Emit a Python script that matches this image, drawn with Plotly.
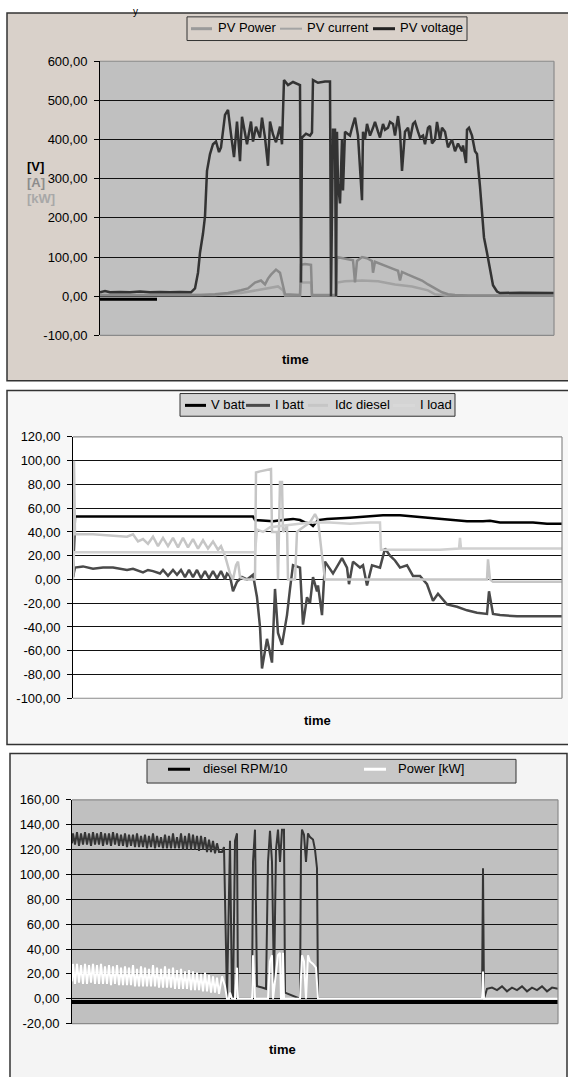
import plotly.graph_objects as go

W, H = 568, 1077
FONT = "Liberation Sans, Arial, sans-serif"

# ---------------- DATA ----------------
# Panel 1 : PV field (time index, value)
PV_VOLTAGE = [(0,10),(5,13),(10,10),(20,11),(30,10),(40,12),(50,10),(60,11),(70,10),(80,11),(91,10),(95,20),
              (98,60),(100,111),(103,160),(105,204),(107,320),(110,363),(113,388),(116,395),(119,368),(121,380),
              (125,463),(128,476),(131,413),(134,355),(137,446),(140,345),(142,458),(145,420),(147,388),(151,446),
              (153,395),(156,433),(160,405),(162,456),(165,405),(168,333),(170,446),(173,413),(176,393),(180,433),
              (182,388),(184,552),(188,539),(193,547),(196,544),(200,539),(201,35),(202,405),(206,415),(210,410),
              (212,418),(213,552),(218,545),(225,548),(230,548),(231,0),(233,425),(235,425),(236,0),(237,420),
              (238,287),(240,237),(242,400),(243,270),(245,420),(247,415),(250,410),(252,430),(255,456),(258,410),
              (262,245),(263,420),(265,400),(267,440),(270,410),(273,430),(275,445),(278,420),(280,405),(283,440),
              (285,425),(288,430),(290,445),(293,440),(295,410),(298,460),(300,420),(302,320),(305,420),(308,430),
              (310,400),(313,440),(315,445),(318,420),(320,405),(323,410),(325,388),(328,430),(330,435),(332,390),
              (335,400),(337,445),(340,400),(342,430),(345,420),(348,380),(350,390),(352,400),(355,370),(358,390),
              (362,370),(363,385),(366,340),(367,425),(369,430),(372,410),(375,370),(377,363),(380,280),(382,204),
              (384,150),(387,111),(390,68),(393,28),(397,12),(400,8),(420,9),(440,8),(454,8)]
PV_CURRENT = [(0,3),(50,3),(100,3),(115,5),(128,8),(141,15),(148,20),(155,35),(161,40),(165,30),(168,45),
              (171,55),(176,68),(180,60),(183,30),(185,5),(200,3),(201,80),(205,82),(211,80),(212,3),(236,3),
              (237,100),(242,97),(248,95),(253,92),(255,35),(257,90),(262,100),(267,97),(272,90),(273,60),
              (275,88),(282,82),(288,75),(295,68),(298,65),(300,40),(302,62),(308,55),(315,48),(322,40),
              (328,30),(335,20),(342,10),(348,5),(355,3),(368,2),(454,2)]
PV_POWER = [(0,3),(100,3),(115,3),(141,8),(155,15),(168,20),(178,25),(183,15),(185,2),(200,2),(201,35),
            (211,35),(212,2),(236,2),(237,35),(245,38),(262,40),(278,38),(295,30),(312,25),(328,15),(335,5),
            (345,2),(454,2)]
PV_OFFSET = [(0,-8),(57,-8)]

# Panel 2 : battery (time index, value)
V_BATT = [(0,2),(2,53),(50,53),(100,53),(150,52.5),(180,53),(182,50),(200,49),(210,50),(220,51),(227,50),
          (232,48),(237,47),(240,45),(245,50),(254,51),(277,52),(300,53),(310,54),(327,54),(340,53),(354,52),
          (377,50),(394,49),(410,49),(417,49.5),(427,48),(460,48),(474,47),(489,47)]
I_BATT = [(0,2),(2,10),(10,11),(20,9),(30,10),(40,10),(54,8),(60,9),(70,6),(75,8),(80,7),(87,5),(90,8),
          (95,3),(100,8),(104,4),(108,8),(112,2),(116,8),(120,2),(124,8),(128,1),(132,7),(136,1),(140,7),
          (144,1),(148,7),(152,0),(154,5),(157,3),(160,-10),(164,-2),(169,2),(174,0),(180,4),(184,-15),
          (187,-40),(189,-75),(194,-50),(199,-70),(202,-8),(205,-45),(209,-55),(214,-30),(217,-8),(220,12),
          (227,10),(230,-38),(234,-15),(237,-20),(240,2),(244,-10),(245,-5),(249,-30),(252,15),(260,5),
          (269,18),(274,10),(276,-4),(280,15),(287,10),(290,12),(294,-5),(299,12),(307,10),(312,26),(317,20),
          (322,16),(327,10),(334,12),(340,3),(347,3),(354,-4),(360,-18),(365,-12),(374,-21),(384,-23),
          (394,-26),(404,-28),(414,-29),(416,-10),(418,-18),(420,-29),(427,-30),(444,-31),(489,-31)]
IDC_DIESEL = [(0,5),(1,100),(2,38),(20,38),(37,37),(54,36),(60,38),(65,32),(70,34),(75,30),(80,36),(85,28),
              (90,35),(95,28),(100,35),(105,27),(110,35),(115,27),(120,34),(125,26),(130,33),(135,26),(140,32),
              (145,25),(148,28),(152,20),(157,5),(160,0),(163,12),(165,15),(167,2),(172,0),(182,0),(183,90),
              (187,91),(192,92),(198,93),(199,40),(204,40),(205,0),(207,82),(209,82),(210,40),(214,45),(215,0),
              (222,0),(224,40),(227,42),(232,45),(237,48),(242,55),(245,50),(249,20),(252,0),(300,0),(414,0),
              (415,17),(417,0),(420,-2),(489,-2)]
I_LOAD = [(0,0),(1,23),(50,23),(100,23),(150,23),(182,23),(184,42),(190,40),(197,44),(207,45),(217,46),
          (227,47),(237,48),(257,48),(277,47),(297,48),(307,48),(308,25),(327,25),(367,25),(386,26),(387,35),
          (388,26),(489,26)]

# Panel 3 : diesel (time index, value)
DIESEL_RPM10 = [(0,125),(1,133),(3,124),(5,134),(7,123),(9,133),(11,124),(13,134),(15,124),(17,133),(19,123),
                (21,134),(23,124),(25,133),(27,124),(29,134),(31,123),(33,133),(35,124),(37,133),(39,123),
                (41,134),(43,124),(45,133),(47,123),(49,132),(51,123),(53,133),(55,122),(57,132),(59,123),
                (61,132),(63,122),(65,133),(67,122),(69,131),(71,122),(73,132),(75,121),(77,131),(79,122),
                (81,133),(83,121),(85,131),(87,122),(89,130),(91,121),(93,132),(95,121),(97,131),(99,121),
                (101,133),(103,121),(105,130),(107,121),(109,133),(111,120),(113,131),(115,120),(117,133),
                (119,120),(121,132),(123,120),(125,131),(127,119),(129,131),(131,120),(133,130),(135,118),
                (137,128),(139,118),(141,127),(143,117),(145,125),(147,118),(150,118),(152,122),(155,0),
                (158,127),(160,0),(161,0),(163,127),(165,133),(166,0),(180,0),(181,110),(183,136),(185,10),
                (190,9),(194,8),(196,110),(198,135),(200,110),(202,10),(204,120),(206,136),(208,110),(210,136),
                (212,136),(213,5),(228,0),(229,120),(230,136),(232,132),(234,110),(236,133),(238,130),(241,128),
                (243,120),(245,105),(246,0),(410,0),(411,105),(412,0),(415,8),(420,9),(425,7),(430,10),(435,6),
                (440,9),(445,7),(450,10),(455,6),(460,9),(465,7),(470,10),(475,6),(480,9),(486,8)]
DIESEL_POWER = [(0,14),(1,28),(3,12),(5,28),(7,13),(9,27),(11,12),(13,28),(15,12),(17,27),(19,13),(21,28),
                (23,12),(25,27),(27,12),(29,28),(31,12),(33,26),(35,12),(37,27),(39,11),(41,26),(43,12),(45,27),
                (47,11),(49,25),(51,11),(53,26),(55,11),(57,25),(59,11),(61,27),(63,10),(65,24),(67,10),(69,26),
                (71,10),(73,25),(75,10),(77,24),(79,10),(81,27),(83,10),(85,25),(87,9),(89,24),(91,9),(93,26),
                (95,9),(97,24),(99,9),(101,25),(103,8),(105,23),(107,8),(109,24),(111,8),(113,22),(115,8),
                (117,23),(119,7),(121,22),(123,7),(125,21),(127,7),(129,20),(131,6),(133,21),(135,6),(137,19),
                (139,5),(141,18),(143,5),(145,17),(147,4),(150,18),(153,10),(155,0),(157,0),(158,5),(160,0),
                (163,0),(165,25),(166,0),(180,0),(181,35),(183,0),(196,0),(198,30),(200,35),(201,0),(206,35),
                (208,37),(209,0),(210,0),(211,37),(212,0),(228,0),(230,35),(232,30),(234,0),(236,35),(238,30),
                (241,28),(244,25),(246,0),(410,0),(411,22),(412,0),(486,0)]
DIESEL_BASE = [(0,-2.5),(486,-2.5)]

P1_TICKS = [-100, 0, 100, 200, 300, 400, 500, 600]
P1_LABELS = ["-100,00", "0,00", "100,00", "200,00", "300,00", "400,00", "500,00", "600,00"]
P2_TICKS = [-100, -80, -60, -40, -20, 0, 20, 40, 60, 80, 100, 120]
P2_LABELS = ["-100,00", "-80,00", "-60,00", "-40,00", "-20,00", "0,00", "20,00", "40,00", "60,00",
             "80,00", "100,00", "120,00"]
P3_TICKS = [-20, 0, 20, 40, 60, 80, 100, 120, 140, 160]
P3_LABELS = ["-20,00", "0,00", "20,00", "40,00", "60,00", "80,00", "100,00", "120,00", "140,00", "160,00"]


# ---------------- helpers ----------------
def fx(px):
    return px / W


def fy(py):
    return 1 - py / H


def xs(pairs):
    return [p[0] for p in pairs]


def ys(pairs):
    return [p[1] for p in pairs]


fig = go.Figure()


def add(pairs, color, width, ax):
    fig.add_trace(go.Scatter(x=xs(pairs), y=ys(pairs), mode="lines",
                             line=dict(color=color, width=width),
                             xaxis="x" + ax, yaxis="y" + ax,
                             showlegend=False, hoverinfo="skip"))


# panel 1 traces
add(PV_OFFSET, "#000000", 3, "")
add(PV_POWER, "#a2a2a2", 2.5, "")
add(PV_CURRENT, "#8a8a8a", 2.5, "")
add(PV_VOLTAGE, "#333333", 2.5, "")
# panel 2
add(V_BATT, "#000000", 2.5, "2")
add(I_BATT, "#4a4a4a", 2.5, "2")
add(IDC_DIESEL, "#c6c6c6", 2.5, "2")
add(I_LOAD, "#d0d0d0", 2.5, "2")
# panel 3
add(DIESEL_BASE, "#000000", 4, "3")
add(DIESEL_RPM10, "#353535", 2, "3")
add(DIESEL_POWER, "#ffffff", 2, "3")

# plot rectangles (px): left, right, top, bottom
P1 = (100, 554, 55, 333)
P2 = (73, 562, 436, 701)
P3 = (72, 558, 804, 1031)

tickfont = dict(family=FONT, size=13, color="#000000")


def xaxis(p, rng, anchor):
    return dict(domain=[fx(p[0]), fx(p[1])], range=rng, showgrid=False, showticklabels=False,
                ticks="", zeroline=False, showline=False, fixedrange=True, anchor=anchor)


def yaxis(p, rng, tv, tt, anchor):
    return dict(domain=[fy(p[3]), fy(p[2])], range=rng, tickvals=tv, ticktext=tt, ticks="outside",
                ticklen=5, tickcolor="#000000", tickwidth=1, showline=True, linecolor="#000000",
                linewidth=1, showgrid=True, gridcolor="#111111", gridwidth=1, zeroline=False,
                tickfont=tickfont, anchor=anchor, fixedrange=True, ticklabelstandoff=4)


shapes = []
annotations = []


def rect_px(x0, y0, x1, y1, fill, line="#333333", lw=1.5, layer="below"):
    shapes.append(dict(type="rect", xref="paper", yref="paper", x0=fx(x0), x1=fx(x1), y0=fy(y1), y1=fy(y0),
                       fillcolor=fill, line=dict(color=line, width=lw), layer=layer))


# panel backgrounds
rect_px(7, 6, 580, 379, "#d9d1ca")
rect_px(7, 389, 580, 748, "#f7f7f7")
rect_px(10, 757, 567, 1090, "#f4f4f4")


def plot_bg(ax, fill):
    shapes.append(dict(type="rect", xref=ax + " domain", yref="y" + ax[1:] + " domain", x0=0, x1=1, y0=0, y1=1,
                       fillcolor=fill, line=dict(width=0), layer="below"))
    for (a, b, c, d) in [(0, 1, 1, 1), (1, 0, 1, 1), (0, 0, 1, 0)]:
        shapes.append(dict(type="line", xref=ax + " domain", yref="y" + ax[1:] + " domain",
                           x0=a, y0=b, x1=c, y1=d, line=dict(color="#8a8a8a", width=1.2), layer="above"))


plot_bg("x", "#c0c0c0")
plot_bg("x2", "#ffffff")
plot_bg("x3", "#c0c0c0")


def text(px, py, s, size=13, color="#000000", bold=False, xanchor="left"):
    annotations.append(dict(xref="paper", yref="paper", x=fx(px), y=fy(py), text=("<b>%s</b>" % s) if bold else s,
                            showarrow=False, xanchor=xanchor, yanchor="middle",
                            font=dict(family=FONT, size=size, color=color)))


def legend(box, items, yc):
    rect_px(box[0], box[1], box[2], box[3], box[4], line="#333333", lw=1, layer="above")
    for (x0, x1, color, lw, label, tx) in items:
        shapes.append(dict(type="line", xref="paper", yref="paper", x0=fx(x0), x1=fx(x1), y0=fy(yc + 1),
                           y1=fy(yc + 1), line=dict(color=color, width=lw), layer="above"))
        text(tx, yc, label)


legend((187, 10, 467, 34, "#d9d1ca"),
       [(191, 212, "#9a9a9a", 3, "PV Power", 216),
        (280, 302, "#a4a4a4", 2, "PV current", 305),
        (373, 395, "#222222", 3, "PV voltage", 398)], 21)
legend((180, 392, 455, 415, "#d4d4d4"),
       [(185, 206, "#000000", 3, "V batt", 209),
        (246, 270, "#4a4a4a", 3, "I batt", 273),
        (308, 328, "#c6c6c6", 3, "Idc diesel", 333),
        (393, 415, "#d8d8d8", 3, "I load", 418)], 403)
legend((147, 763, 516, 787, "#c8c8c8"),
       [(168, 190, "#000000", 3, "diesel RPM/10", 201),
        (364, 386, "#ffffff", 3, "Power [kW]", 396)], 772)

text(295, 357, "time", bold=True, xanchor="center")
text(317, 724, "time", bold=True, xanchor="center")
text(282, 1057, "time", bold=True, xanchor="center")
text(25, 162, "[V]", bold=True, color="#000000")
text(25, 178, "[A]", bold=True, color="#8c8c8c")
text(25, 194, "[kW]", bold=True, color="#a8a8a8")
annotations.append(dict(xref="paper", yref="paper", x=fx(135), y=1, text="y", showarrow=False,
                        xanchor="center", yanchor="top", borderpad=0, yshift=2,
                        font=dict(family=FONT, size=10, color="#000000")))

fig.update_layout(
    width=W, height=H, margin=dict(l=0, r=0, t=0, b=0),
    paper_bgcolor="#ffffff", plot_bgcolor="rgba(0,0,0,0)",
    showlegend=False,
    xaxis=xaxis(P1, [0, 454], "y"), yaxis=yaxis(P1, [-100, 600], P1_TICKS, P1_LABELS, "x"),
    xaxis2=xaxis(P2, [0, 489], "y2"), yaxis2=yaxis(P2, [-100, 120], P2_TICKS, P2_LABELS, "x2"),
    xaxis3=xaxis(P3, [0, 486], "y3"), yaxis3=yaxis(P3, [-20, 160], P3_TICKS, P3_LABELS, "x3"),
    shapes=shapes, annotations=annotations,
)

fig.write_html("out.html", config={"displayModeBar": False, "staticPlot": True},
               post_script="document.body.style.margin='0px';")
